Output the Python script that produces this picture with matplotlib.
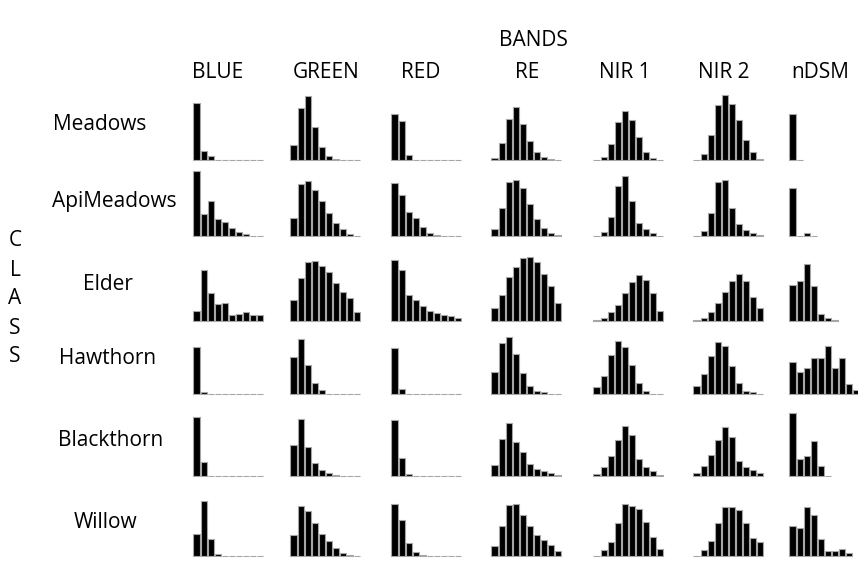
import numpy as np
import matplotlib
matplotlib.use("Agg")
import matplotlib.pyplot as plt

plt.rcParams['font.family'] = ['Open Sans', 'DejaVu Sans']

bands = ["BLUE", "GREEN", "RED", "RE", "NIR 1", "NIR 2", "nDSM"]
classes = ["Meadows", "ApiMeadows", "Elder", "Hawthorn", "Blackthorn", "Willow"]

# Histogram bin counts per class, one list per band
meadows = [
    [57, 9, 4, 0, 0, 0, 0, 0, 0, 0],
    [15, 52, 64, 33, 13, 4, 1, 0, 0, 0],
    [46, 39, 5, 0, 0, 0, 0, 0, 0, 0],
    [2, 17, 41, 53, 36, 19, 8, 3, 1, 0],
    [0, 3, 16, 38, 49, 40, 23, 8, 2, 0],
    [0, 6, 25, 55, 65, 56, 40, 20, 8, 1],
    [46, 0],
]
apimeadows = [
    [65, 22, 35, 17, 14, 8, 4, 2, 0, 0],
    [18, 52, 55, 46, 35, 23, 13, 7, 2, 0],
    [53, 41, 24, 18, 9, 3, 1, 0, 0, 0],
    [7, 28, 54, 56, 48, 32, 17, 8, 3, 1],
    [0, 4, 19, 50, 60, 35, 13, 7, 3, 0],
    [0, 5, 23, 54, 56, 28, 12, 6, 3, 1],
    [48, 0, 3, 0],
]
elder = [
    [10, 51, 28, 17, 18, 6, 7, 9, 6, 6],
    [21, 43, 59, 60, 55, 49, 38, 29, 23, 9],
    [61, 51, 26, 21, 15, 10, 8, 6, 5, 3],
    [13, 26, 44, 54, 63, 64, 59, 47, 35, 18],
    [1, 3, 9, 16, 28, 39, 46, 41, 28, 10],
    [1, 3, 9, 18, 29, 40, 47, 40, 24, 13],
    [36, 40, 57, 35, 7, 3, 1],
]
hawthorn = [
    [47, 2, 0, 0, 0, 0, 0, 0, 0, 0],
    [37, 55, 29, 11, 4, 0, 0, 0, 0, 0],
    [46, 5, 0, 0, 0, 0, 0, 0, 0, 0],
    [22, 51, 57, 40, 21, 8, 3, 2, 0, 0],
    [7, 18, 39, 53, 47, 29, 11, 3, 0, 0],
    [8, 20, 38, 52, 48, 28, 11, 3, 2, 0],
    [32, 22, 26, 36, 36, 48, 26, 36, 10, 4],
]
blackthorn = [
    [59, 14, 0, 0, 0, 0, 0, 0, 0, 0],
    [31, 57, 29, 13, 6, 3, 1, 0, 0, 0],
    [56, 18, 2, 0, 0, 0, 0, 0, 0, 0],
    [11, 37, 53, 34, 24, 12, 7, 5, 3, 1],
    [2, 9, 20, 36, 50, 41, 17, 9, 5, 1],
    [3, 10, 21, 36, 49, 39, 15, 9, 6, 3],
    [63, 17, 20, 35, 10, 0],
]
willow = [
    [22, 55, 17, 2, 0, 0, 0, 0, 0, 0],
    [21, 50, 45, 33, 22, 15, 8, 3, 1, 0],
    [52, 36, 13, 4, 1, 0, 0, 0, 0, 0],
    [10, 30, 51, 52, 41, 30, 21, 16, 11, 5],
    [0, 6, 14, 33, 52, 50, 47, 34, 19, 7],
    [0, 6, 15, 33, 49, 49, 46, 33, 18, 14],
    [30, 28, 49, 41, 17, 5, 5, 7, 3],
]
counts = [meadows, apimeadows, elder, hawthorn, blackthorn, willow]

W, H = 858, 563
fig = plt.figure(figsize=(W / 100, H / 100), dpi=100)
fig.patch.set_facecolor("white")

col_left = [193, 290, 391, 491, 593, 693, 789]
row_base = [160, 236, 321, 394, 476, 556]
bin_w = 7.1
panel_h = 68.0

for r, cls in enumerate(classes):
    for c, band in enumerate(bands):
        vals = counts[r][c]
        ax = fig.add_axes([col_left[c] / W, (H - row_base[r]) / H,
                           10 * bin_w / W, panel_h / H])
        ax.bar(np.arange(len(vals)) + 0.06, vals, width=0.86, align="edge",
               color="black", edgecolor="#a6a6a6", linewidth=0.8,
               clip_on=False)
        ax.set_xlim(0, 10)
        ax.set_ylim(0, panel_h)
        ax.axis("off")

fs = 15
fig.text(533 / W, 1 - 40 / H, "BANDS", ha="center", va="center", fontsize=fs)
col_center = [218, 326, 421, 527, 625, 724, 820]
for c, band in enumerate(bands):
    fig.text(col_center[c] / W, 1 - 73 / H, band, ha="center", va="center",
             fontsize=fs)

row_label_x = [100, 114, 108, 108, 111, 105]
row_label_y = [125, 201, 285, 358, 441, 522]
for r, cls in enumerate(classes):
    fig.text(row_label_x[r] / W, 1 - row_label_y[r] / H, cls, ha="center",
             va="center", fontsize=fs)

for i, ch in enumerate("CLASS"):
    fig.text(15 / W, 1 - (241 + 29 * i) / H, ch, ha="center", va="center",
             fontsize=fs)

fig.savefig("out.png", dpi=100, facecolor="white")
